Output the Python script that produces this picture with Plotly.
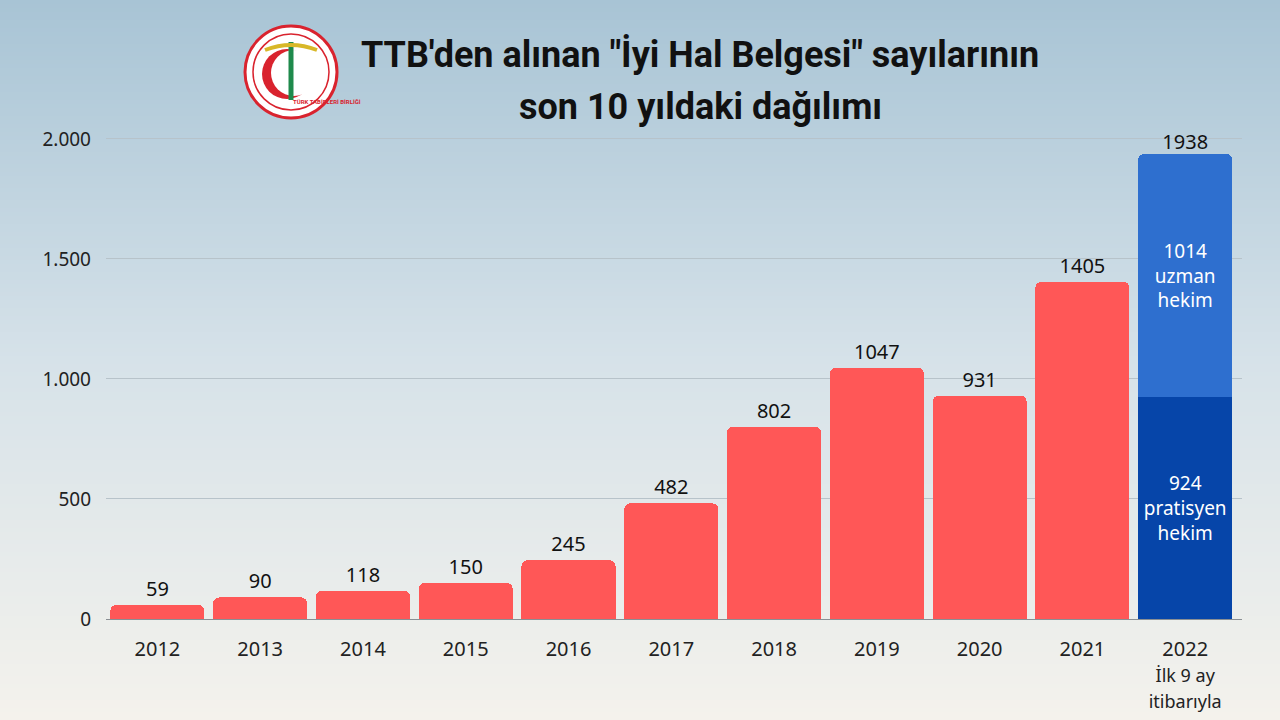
import plotly.graph_objects as go

years = ["2012", "2013", "2014", "2015", "2016", "2017", "2018", "2019", "2020", "2021"]
counts = [59, 90, 118, 150, 245, 482, 802, 1047, 931, 1405]
last_year = "2022"
pratisyen = 924
uzman = 1014
total_2022 = pratisyen + uzman
tick_vals = [0, 500, 1000, 1500, 2000]
title_lines = ["TTB'den alınan \"İyi Hal Belgesi\" sayılarının", "son 10 yıldaki dağılımı"]
last_tick = "2022<br><span style='font-size:18px'>İlk 9 ay</span><br><span style='font-size:18px'>itibarıyla</span>"

FONT = "Noto Sans"
fig = go.Figure()

fig.add_trace(go.Bar(
    x=years, y=counts, marker=dict(color="#FF5757", line=dict(width=0)),
    text=counts, textposition="outside", cliponaxis=False,
    textfont=dict(family=FONT, size=20, color="#111111"),
    hoverinfo="x+y", showlegend=False,
))
fig.add_trace(go.Bar(
    x=[last_year], y=[pratisyen], marker=dict(color="#0645A9", line=dict(width=0)),
    text=[f"{pratisyen}<br>pratisyen<br>hekim"], textposition="inside", insidetextanchor="middle",
    textfont=dict(family=FONT, size=19, color="white"), showlegend=False,
))
fig.add_trace(go.Bar(
    x=[last_year], y=[uzman], marker=dict(color="#2E6FCF", line=dict(width=0)),
    text=[f"{uzman}<br>uzman<br>hekim"], textposition="inside", insidetextanchor="middle",
    textfont=dict(family=FONT, size=19, color="white"), showlegend=False,
))
fig.add_trace(go.Scatter(
    x=[last_year], y=[total_2022], mode="text", text=[str(total_2022)],
    textposition="top center", textfont=dict(family=FONT, size=20, color="#111111"),
    cliponaxis=False, showlegend=False, hoverinfo="skip",
))

# background gradient (decorative)
def lerp(c1, c2, t):
    return "rgb(%d,%d,%d)" % tuple(round(a + (b - a) * t) for a, b in zip(c1, c2))

top = (168, 196, 213)
mid = (214, 226, 233)
bot = (244, 242, 236)
n = 180
L, R, T, B = 106, 38, 120, 101
PW, PH = 1280 - L - R, 720 - T - B
def pxx(x):
    return (x - L) / PW
def pyy(y):
    return (720 - B - y) / PH
shapes = []
for i in range(n):
    t = i / (n - 1)
    col = lerp(top, mid, t / 0.5) if t < 0.5 else lerp(mid, bot, (t - 0.5) / 0.5)
    y0 = i * 720 / n
    y1 = y0 + 720 / n + 3
    shapes.append(dict(type="rect", xref="paper", yref="paper", layer="below",
                       x0=pxx(-5), x1=pxx(1285), y0=pyy(y1), y1=pyy(y0 - (5 if i == 0 else 0)),
                       fillcolor=col, line=dict(width=0)))

# logo (decorative)
cx, cy, r = 291, 72, 46
def circ(x, y, rr, **kw):
    d = dict(type="circle", xref="paper", yref="paper", layer="above",
             x0=pxx(x - rr), x1=pxx(x + rr), y0=pyy(y + rr), y1=pyy(y - rr))
    d.update(kw)
    return d
shapes.append(circ(cx, cy, r, fillcolor="white", line=dict(color="#d9232e", width=3)))
shapes.append(circ(cx, cy, r - 8, fillcolor="white", line=dict(color="#d9232e", width=1.5)))
shapes.append(circ(cx - 4, cy + 2, 25, fillcolor="#d9232e", line=dict(width=0)))
shapes.append(circ(cx + 3, cy + 1, 23, fillcolor="white", line=dict(width=0)))
shapes.append(dict(type="line", xref="paper", yref="paper", layer="above",
                   x0=pxx(cx), x1=pxx(cx), y0=pyy(100), y1=pyy(42),
                   line=dict(color="#1f8a4c", width=5)))
shapes.append(dict(type="path", xref="paper", yref="paper", layer="above",
                   path="M %f %f Q %f %f %f %f" % (pxx(cx - 26), pyy(50), pxx(cx), pyy(40), pxx(cx + 26), pyy(50)),
                   line=dict(color="#d8b828", width=4)))

annotations = [
    dict(text="<b>" + title_lines[0] + "</b>", x=pxx(700), y=pyy(55), xref="paper", yref="paper",
         showarrow=False, yanchor="middle", font=dict(family="Roboto", size=36, color="#111111")),
    dict(text="<b>" + title_lines[1] + "</b>", x=pxx(700), y=pyy(107), xref="paper", yref="paper",
         showarrow=False, yanchor="middle", font=dict(family="Roboto", size=36, color="#111111")),
    dict(text="<b>TÜRK TABİPLERİ BİRLİĞİ</b>", x=pxx(cx), y=pyy(cy + 30), xref="paper", yref="paper",
         showarrow=False, yanchor="middle", font=dict(family="Roboto", size=6, color="#d9232e")),
]

fig.update_layout(
    width=1280, height=720,
    margin=dict(l=L, r=R, t=T, b=B, autoexpand=False),
    barmode="stack", bargap=0.085, barcornerradius=6,
    paper_bgcolor="#e4ebef", plot_bgcolor="rgba(0,0,0,0)",
    separators=",.",
    shapes=shapes, annotations=annotations,
    font=dict(family=FONT, color="#222222"),
    xaxis=dict(type="category", categoryorder="array", categoryarray=years + [last_year],
               tickmode="array", tickvals=years + [last_year], ticktext=years + [last_tick],
               tickfont=dict(family=FONT, size=20, color="#222222"), showgrid=False,
               showline=True, linecolor="#8a8f94", linewidth=1, ticks="", ticklen=0,
               ticklabelstandoff=12, automargin=False),
    yaxis=dict(range=[0, 2079], tickvals=tick_vals, tickformat=",d",
               tickfont=dict(family=FONT, size=19, color="#222222"),
               showgrid=True, gridcolor="#b7c3ca", gridwidth=1, zeroline=False,
               ticks="", ticklabelstandoff=14, automargin=False),
)

fig.write_html("out.html", config={"displayModeBar": False},
               post_script="document.body.style.margin='0';")
